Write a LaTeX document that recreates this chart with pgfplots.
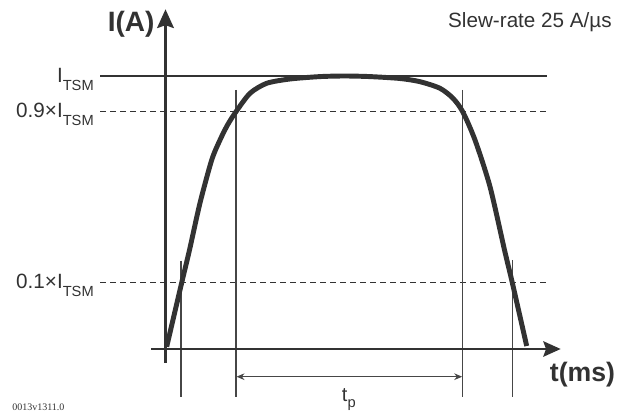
\documentclass[border=0pt]{standalone}
\usepackage{fontspec}
\setmainfont{Liberation Sans}
\newfontfamily\codefont{Liberation Serif}
\usepackage{pgfplots}
\pgfplotsset{compat=1.18}
\usetikzlibrary{arrows.meta}
\definecolor{ink}{RGB}{50,50,50}
\definecolor{guide}{RGB}{70,70,70}
% subscript in the style of the datasheet
\newcommand{\sub}[2][-6pt]{\raisebox{#1}{\fontsize{11}{11}\selectfont #2}}

\begin{document}
\begin{tikzpicture}
\begin{axis}[
  scale only axis,
  width=463.5pt, height=309.75pt,   % 618 x 413 px at 0.75 pt/px
  xmin=0, xmax=618, ymin=0, ymax=413,
  y dir=reverse,
  hide axis,
  clip=false,
]
% invisible frame keeps the page at the reference size
\path (axis cs:0,0) rectangle (axis cs:618,413);

% ---- reference levels ----
\addplot[ink, line width=1.5pt] coordinates {(100,75.7) (546.7,75.7)};
\addplot[ink, line width=0.8pt, dash pattern=on 4.5pt off 3pt] coordinates {(100,111.7) (546.7,111.7)};
\addplot[ink, line width=0.8pt, dash pattern=on 4.5pt off 3pt] coordinates {(100,282.7) (546.7,282.7)};

% ---- guide lines ----
\addplot[guide, line width=0.9pt] coordinates {(181,260.7) (181,396.7)};
\addplot[guide, line width=0.9pt] coordinates {(236,90) (236,396.7)};
\addplot[guide, line width=0.9pt] coordinates {(462.7,90) (462.7,396.7)};
\addplot[guide, line width=0.9pt] coordinates {(512.3,260) (512.3,396.7)};
\addplot[guide, line width=0.8pt, {Stealth[length=6pt,width=5pt]}-{Stealth[length=6pt,width=5pt]}]
  coordinates {(236.5,376.7) (462.2,376.7)};

% ---- axes ----
\addplot[ink, line width=2pt, -{Stealth[length=14pt,width=12.5pt,inset=2pt]}]
  coordinates {(165.5,363) (165.5,9.3)};
\addplot[ink, line width=2pt, -{Stealth[length=13pt,width=11.5pt,inset=2pt]}]
  coordinates {(151,349) (560.7,349)};

% ---- current pulse ----
\addplot[ink, line width=3.7pt, smooth, tension=0.45, line join=round] coordinates {
  (166.7,346.7) (181.7,282.7) (189.5,250) (200,203) (211.7,160) (220,140)
  (227.5,125) (236,111.7) (250,93.3) (266.7,83.3) (290,79) (320,76.6)
  (345,76) (370,76.6) (400,78.5) (420,81.7) (440,88.3) (453,98.3)
  (462.7,111.7) (475,140) (490,186.7) (504.5,250) (512.3,282.7) (526.7,346)
};

% ---- labels ----
\node[anchor=base east, inner sep=0pt, text=ink, font=\fontsize{15.5}{15.5}\selectfont]
  at (axis cs:94,83) {I\sub{TSM}};
\node[anchor=base east, inner sep=0pt, text=ink, font=\fontsize{15.5}{15.5}\selectfont]
  at (axis cs:94,118) {0.9×I\sub{TSM}};
\node[anchor=base east, inner sep=0pt, text=ink, font=\fontsize{15.5}{15.5}\selectfont]
  at (axis cs:94,288.3) {0.1×I\sub{TSM}};
\node[anchor=center, inner sep=0pt, text=ink, font=\fontsize{21}{21}\selectfont\bfseries]
  at (axis cs:131.2,24.2) {I(A)};
\node[anchor=center, inner sep=0pt, text=ink, font=\fontsize{20}{20}\selectfont\bfseries]
  at (axis cs:582.5,375) {t(ms)};
\node[anchor=base east, inner sep=0pt, text=ink, font=\fontsize{15.5}{15.5}\selectfont]
  at (axis cs:612,28) {Slew-rate 25 A/µs};
\node[anchor=base west, inner sep=0pt, text=ink, font=\fontsize{15}{15}\selectfont]
  at (axis cs:341.7,401.7) {t\sub[-4.5pt]{p}};
\node[anchor=base west, inner sep=0pt, text=ink, font=\codefont\fontsize{7.5}{7.5}\selectfont]
  at (axis cs:12,411) {0013v1311.0};
\end{axis}
\end{tikzpicture}
\end{document}
